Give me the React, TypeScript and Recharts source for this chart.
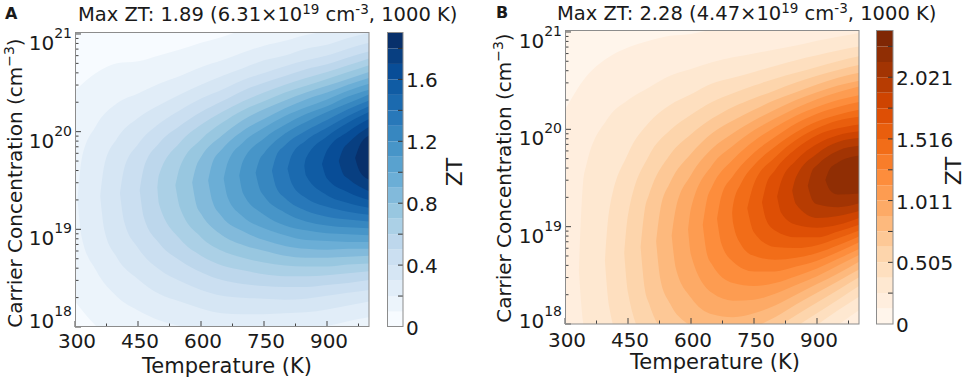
import React from "react";
import { ComposedChart, Area, XAxis, YAxis, CartesianGrid, BarChart, Bar } from "recharts";

const FONT = '"DejaVu Sans", Verdana, sans-serif';
const INK = "#1a1a1a";
const TICK = "#444";

// temperature axis (K)
const tempMajor = [300, 450, 600, 750, 900];
const tempMinor = [375, 525, 675, 825, 975];
// carrier concentration axis, stored as log10(n / cm^-3)
const decades = [18, 19, 20, 21];
const concTop = 21.01;

// contourf levels (ZT) and colorbar ticks
const levelsA = [0, 0.1, 0.2, 0.3, 0.4, 0.5, 0.6, 0.7, 0.8, 0.9, 1.0, 1.1, 1.2, 1.3, 1.4, 1.5, 1.6, 1.7, 1.8, 1.9];
const cbarLabelsA = [0, 0.4, 0.8, 1.2, 1.6];
const cbarMinorA = [0.2, 0.6, 1.0, 1.4, 1.8];
const levelsB = [0, 0.126, 0.253, 0.379, 0.505, 0.632, 0.758, 0.884, 1.011, 1.137, 1.263, 1.389, 1.516, 1.642, 1.768, 1.895, 2.021, 2.147, 2.274, 2.4];
const cbarLabelsB = [0, 0.505, 1.011, 1.516, 2.021];
const cbarMinorB = [0.253, 0.758, 1.263, 1.768, 2.274];

// iso-ZT contours: one list per level (levels[1..]),
// each point is [T, lower log10 n, upper log10 n]
const contoursA = [
  [[300, 18.26, 20.42], [350, 18.01, 20.6], [400, 17.85, 20.7], [450, 17.76, 20.72], [500, 17.7, 20.78], [550, 17.66, 20.84], [600, 17.63, 20.91], [650, 17.61, 20.97], [700, 17.63, 21.04], [750, 17.65, 21.1], [800, 17.68, 21.14], [850, 17.71, 21.2], [900, 17.76, 21.23], [950, 17.81, 21.29], [1000, 17.86, 21.35]],
  [[306, 19.3, 19.3], [316, 18.92, 19.72], [350, 18.58, 20.06], [400, 18.31, 20.29], [450, 18.17, 20.39], [500, 18.07, 20.49], [550, 18.01, 20.57], [600, 17.96, 20.66], [650, 17.93, 20.73], [700, 17.93, 20.81], [750, 17.94, 20.88], [800, 17.95, 20.93], [850, 17.97, 20.99], [900, 18.01, 21.03], [950, 18.06, 21.09], [1000, 18.1, 21.14]],
  [[360, 19.34, 19.34], [370, 18.99, 19.66], [400, 18.71, 19.93], [450, 18.49, 20.14], [500, 18.34, 20.27], [550, 18.26, 20.38], [600, 18.19, 20.48], [650, 18.14, 20.57], [700, 18.13, 20.65], [750, 18.13, 20.73], [800, 18.14, 20.78], [850, 18.15, 20.85], [900, 18.18, 20.89], [950, 18.22, 20.96], [1000, 18.26, 21.01]],
  [[407, 19.37, 19.37], [417, 19.08, 19.62], [450, 18.81, 19.87], [500, 18.59, 20.08], [550, 18.47, 20.22], [600, 18.38, 20.34], [650, 18.32, 20.43], [700, 18.3, 20.53], [750, 18.29, 20.6], [800, 18.28, 20.67], [850, 18.29, 20.73], [900, 18.32, 20.78], [950, 18.35, 20.85], [1000, 18.38, 20.91]],
  [[454, 19.4, 19.4], [464, 19.12, 19.63], [500, 18.86, 19.88], [550, 18.68, 20.06], [600, 18.56, 20.2], [650, 18.48, 20.31], [700, 18.44, 20.42], [750, 18.42, 20.5], [800, 18.41, 20.57], [850, 18.41, 20.64], [900, 18.43, 20.69], [950, 18.45, 20.76], [1000, 18.48, 20.82]],
  [[496, 19.43, 19.43], [500, 19.26, 19.56], [550, 18.9, 19.89], [600, 18.73, 20.07], [650, 18.63, 20.2], [700, 18.58, 20.31], [750, 18.54, 20.4], [800, 18.52, 20.48], [850, 18.52, 20.55], [900, 18.53, 20.61], [950, 18.55, 20.68], [1000, 18.57, 20.75]],
  [[539, 19.45, 19.45], [550, 19.22, 19.64], [600, 18.92, 19.92], [650, 18.78, 20.09], [700, 18.71, 20.22], [750, 18.66, 20.31], [800, 18.63, 20.4], [850, 18.62, 20.47], [900, 18.62, 20.54], [950, 18.64, 20.61], [1000, 18.65, 20.68]],
  [[579, 19.48, 19.48], [589, 19.25, 19.65], [600, 19.16, 19.74], [650, 18.94, 19.96], [700, 18.84, 20.12], [750, 18.78, 20.23], [800, 18.73, 20.32], [850, 18.71, 20.4], [900, 18.71, 20.47], [950, 18.72, 20.54], [1000, 18.73, 20.61]],
  [[617, 19.5, 19.5], [627, 19.29, 19.68], [650, 19.13, 19.82], [700, 18.98, 20.01], [750, 18.89, 20.13], [800, 18.83, 20.24], [850, 18.8, 20.33], [900, 18.79, 20.4], [950, 18.8, 20.48], [1000, 18.8, 20.55]],
  [[654, 19.52, 19.52], [664, 19.32, 19.69], [700, 19.13, 19.89], [750, 19.01, 20.04], [800, 18.94, 20.16], [850, 18.89, 20.25], [900, 18.88, 20.33], [950, 18.87, 20.42], [1000, 18.87, 20.49]],
  [[691, 19.55, 19.55], [700, 19.37, 19.7], [750, 19.15, 19.93], [800, 19.04, 20.07], [850, 18.99, 20.18], [900, 18.96, 20.26], [950, 18.95, 20.36], [1000, 18.94, 20.43]],
  [[730, 19.58, 19.58], [740, 19.41, 19.72], [750, 19.34, 19.78], [800, 19.17, 19.98], [850, 19.08, 20.1], [900, 19.04, 20.2], [950, 19.02, 20.29], [1000, 19.01, 20.38]],
  [[769, 19.6, 19.6], [779, 19.43, 19.75], [800, 19.32, 19.86], [850, 19.19, 20.01], [900, 19.13, 20.12], [950, 19.1, 20.23], [1000, 19.08, 20.32]],
  [[806, 19.62, 19.62], [816, 19.47, 19.76], [850, 19.32, 19.91], [900, 19.23, 20.04], [950, 19.18, 20.16], [1000, 19.15, 20.26]],
  [[846, 19.65, 19.65], [850, 19.55, 19.73], [900, 19.35, 19.95], [950, 19.27, 20.09], [1000, 19.22, 20.2]],
  [[888, 19.67, 19.67], [900, 19.52, 19.81], [950, 19.38, 20.0], [1000, 19.3, 20.13]],
  [[928, 19.7, 19.7], [938, 19.57, 19.82], [950, 19.52, 19.88], [1000, 19.39, 20.05]],
  [[967, 19.73, 19.73], [977, 19.6, 19.85], [1000, 19.51, 19.96]],
];

const contoursB = [
  [[300, 17.14, 20.2], [350, 16.8, 20.54], [400, 16.59, 20.73], [450, 16.44, 20.84], [500, 16.33, 20.91], [550, 16.3, 20.96], [600, 16.37, 20.98], [650, 16.5, 21.02], [700, 16.69, 21.03], [750, 16.9, 21.05], [800, 17.13, 21.07], [850, 17.37, 21.1], [900, 17.57, 21.13], [950, 17.76, 21.16], [1000, 17.93, 21.2]],
  [[333, 18.55, 18.55], [343, 18.02, 19.45], [350, 17.9, 19.62], [400, 17.38, 20.1], [450, 17.09, 20.3], [500, 16.9, 20.43], [550, 16.82, 20.55], [600, 16.84, 20.62], [650, 16.93, 20.69], [700, 17.08, 20.74], [750, 17.25, 20.78], [800, 17.44, 20.82], [850, 17.64, 20.86], [900, 17.82, 20.91], [950, 17.99, 20.95], [1000, 18.14, 20.99]],
  [[395, 18.65, 18.65], [405, 18.18, 19.16], [450, 17.63, 19.75], [500, 17.33, 20.07], [550, 17.19, 20.25], [600, 17.18, 20.36], [650, 17.22, 20.47], [700, 17.34, 20.53], [750, 17.48, 20.59], [800, 17.64, 20.65], [850, 17.82, 20.71], [900, 17.99, 20.76], [950, 18.14, 20.81], [1000, 18.28, 20.85]],
  [[441, 18.73, 18.73], [450, 18.32, 19.12], [500, 17.74, 19.73], [550, 17.52, 19.99], [600, 17.46, 20.15], [650, 17.46, 20.28], [700, 17.55, 20.37], [750, 17.66, 20.45], [800, 17.81, 20.52], [850, 17.97, 20.58], [900, 18.11, 20.64], [950, 18.25, 20.7], [1000, 18.39, 20.75]],
  [[480, 18.79, 18.79], [490, 18.36, 19.18], [500, 18.21, 19.33], [550, 17.84, 19.74], [600, 17.72, 19.95], [650, 17.68, 20.11], [700, 17.73, 20.23], [750, 17.82, 20.32], [800, 17.95, 20.4], [850, 18.09, 20.48], [900, 18.22, 20.55], [950, 18.35, 20.61], [1000, 18.48, 20.66]],
  [[517, 18.85, 18.85], [527, 18.46, 19.18], [550, 18.21, 19.45], [600, 17.98, 19.75], [650, 17.89, 19.96], [700, 17.91, 20.09], [750, 17.97, 20.2], [800, 18.07, 20.3], [850, 18.2, 20.38], [900, 18.32, 20.46], [950, 18.44, 20.53], [1000, 18.56, 20.58]],
  [[554, 18.91, 18.91], [564, 18.57, 19.19], [600, 18.27, 19.53], [650, 18.1, 19.8], [700, 18.07, 19.96], [750, 18.11, 20.09], [800, 18.19, 20.2], [850, 18.3, 20.3], [900, 18.41, 20.38], [950, 18.52, 20.45], [1000, 18.64, 20.5]],
  [[593, 18.97, 18.97], [600, 18.71, 19.19], [650, 18.32, 19.63], [700, 18.24, 19.83], [750, 18.25, 19.99], [800, 18.31, 20.11], [850, 18.4, 20.22], [900, 18.49, 20.31], [950, 18.6, 20.38], [1000, 18.71, 20.44]],
  [[628, 19.02, 19.02], [638, 18.72, 19.28], [650, 18.61, 19.41], [700, 18.42, 19.69], [750, 18.39, 19.88], [800, 18.42, 20.02], [850, 18.49, 20.14], [900, 18.57, 20.23], [950, 18.67, 20.3], [1000, 18.77, 20.35]],
  [[662, 19.08, 19.08], [672, 18.83, 19.31], [700, 18.64, 19.52], [750, 18.54, 19.76], [800, 18.54, 19.92], [850, 18.59, 20.06], [900, 18.65, 20.16], [950, 18.74, 20.23], [1000, 18.84, 20.28]],
  [[698, 19.14, 19.14], [700, 19.04, 19.22], [720, 18.81, 19.45], [750, 18.7, 19.63], [800, 18.66, 19.82], [850, 18.68, 19.97], [900, 18.73, 20.08], [950, 18.81, 20.15], [1000, 18.9, 20.2]],
  [[734, 19.19, 19.19], [750, 18.94, 19.44], [800, 18.79, 19.71], [850, 18.78, 19.89], [900, 18.81, 20.01], [950, 18.88, 20.09], [1000, 18.96, 20.13]],
  [[769, 19.25, 19.25], [779, 19.07, 19.43], [800, 18.96, 19.58], [850, 18.89, 19.8], [900, 18.89, 19.94], [950, 18.95, 20.01], [1000, 19.02, 20.05]],
  [[805, 19.31, 19.31], [815, 19.14, 19.47], [850, 19.02, 19.68], [900, 18.99, 19.85], [950, 19.02, 19.94], [1000, 19.09, 19.98]],
  [[841, 19.37, 19.37], [850, 19.23, 19.51], [900, 19.09, 19.75], [950, 19.11, 19.87], [1000, 19.16, 19.91]],
  [[878, 19.42, 19.42], [888, 19.28, 19.57], [900, 19.23, 19.63], [950, 19.2, 19.78], [1000, 19.24, 19.83]],
  [[920, 19.48, 19.48], [930, 19.38, 19.59], [950, 19.33, 19.66], [1000, 19.34, 19.73]],
];

// matplotlib Blues / Oranges
const BLUES = ["#f7fbff", "#deebf7", "#c6dbef", "#9ecae1", "#6baed6", "#4292c6", "#2171b5", "#08519c", "#08306b"];
const ORANGES = ["#fff5eb", "#fee6ce", "#fdd0a2", "#fdae6b", "#fd8d3c", "#f16913", "#d94801", "#a63603", "#7f2704"];

function rgb(hex: string) {
  const n = parseInt(hex.slice(1), 16);
  return [(n >> 16) & 255, (n >> 8) & 255, n & 255];
}

function bandColor(stops: string[], i: number, count: number) {
  const t = Math.min(Math.max(i / (count - 1), 0), 1) * (stops.length - 1);
  const k = Math.min(Math.floor(t), stops.length - 2);
  const f = t - k;
  const a = rgb(stops[k]);
  const b = rgb(stops[k + 1]);
  const c = a.map((v, j) => Math.round(v + (b[j] - v) * f));
  return `rgb(${c[0]},${c[1]},${c[2]})`;
}

const concTicks = decades.flatMap((d) =>
  d === 21 ? [21] : [d, ...[2, 3, 4, 5, 6, 7, 8, 9].map((m) => d + Math.log10(m))]
);
const tempTicks = [...tempMajor, ...tempMinor].sort((a, b) => a - b);

const makeTempTick = (labelDy: number) => (props: any) => {
  const { x, y, payload } = props;
  const major = tempMajor.includes(payload.value);
  return (
    <g>
      <line x1={x} x2={x} y1={y} y2={y - (major ? 6 : 3.5)} stroke={TICK} />
      {major && (
        <text x={x + 2} y={y + labelDy} textAnchor="middle" fontSize={20} fill={INK} fontFamily={FONT}>
          {payload.value}
        </text>
      )}
    </g>
  );
};

const makeConcTick = (bottomDy: number) => (props: any) => {
  const { x, y, payload } = props;
  const v = payload.value;
  const major = Math.abs(v - Math.round(v)) < 1e-6;
  return (
    <g>
      <line x1={x} x2={x + (major ? 6 : 3.5)} y1={y} y2={y} stroke={TICK} />
      {major && (
        <text x={x - 3} y={y + (Math.round(v) === 18 ? bottomDy : 16)} textAnchor="end" fontSize={20} fill={INK} fontFamily={FONT}>
          10
          <tspan dy={-12} fontSize={14}>
            {Math.round(v)}
          </tspan>
        </text>
      )}
    </g>
  );
};

const makeCbarTick = (labels: number[]) => (props: any) => {
  const { x, y, payload } = props;
  const v = payload.value;
  return (
    <g>
      {v > 0 && <line x1={x} x2={x - 5} y1={y} y2={y} stroke="#333" />}
      {labels.includes(v) && (
        <text x={x + 3} y={y + 8} fontSize={20} fill={INK} fontFamily={FONT}>
          {String(v)}
        </text>
      )}
    </g>
  );
};

interface PanelProps {
  left: number;
  width: number;
  top: number;
  plotBottom: number;
  contours: number[][][];
  stops: string[];
  labelDy: number;
  bottomDy: number;
}

function ContourPanel({ left, width, top, plotBottom, contours, stops, labelDy, bottomDy }: PanelProps) {
  const plotRight = 75 + 294;
  return (
    <div style={{ position: "absolute", left, top: 0 }}>
      <ComposedChart width={width} height={383} margin={{ top, right: width - plotRight, left: 0, bottom: 0 }}>
        <CartesianGrid horizontal={false} vertical={false} fill={bandColor(stops, 0, 19)} />
        <XAxis
          dataKey="t"
          type="number"
          domain={[300, 1000]}
          ticks={tempTicks}
          interval={0}
          allowDataOverflow
          height={383 - plotBottom}
          tickSize={0}
          tickMargin={0}
          tickLine={false}
          axisLine={false}
          tick={makeTempTick(labelDy)}
        />
        <YAxis
          type="number"
          domain={[18, concTop]}
          ticks={concTicks}
          interval={0}
          allowDataOverflow
          width={75}
          tickSize={0}
          tickMargin={0}
          tickLine={false}
          axisLine={false}
          tick={makeConcTick(bottomDy)}
        />
        {contours.map((pts, i) => (
          <Area
            key={i}
            data={pts.map(([t, lo, hi]) => ({ t, zt: [lo, hi] }))}
            dataKey="zt"
            type="monotone"
            fill={bandColor(stops, i + 1, 19)}
            fillOpacity={1}
            stroke="none"
            isAnimationActive={false}
          />
        ))}
      </ComposedChart>
    </div>
  );
}

interface CbarProps {
  left: number;
  barWidth: number;
  axisWidth: number;
  top: number;
  plotBottom: number;
  levels: number[];
  labels: number[];
  minor: number[];
  stops: string[];
}

function Colorbar({ left, barWidth, axisWidth, top, plotBottom, levels, labels, minor, stops }: CbarProps) {
  const row: Record<string, number | string> = { name: "ZT" };
  levels.slice(1).forEach((l, i) => {
    row[`b${i}`] = l - levels[i];
  });
  const ticks = [...labels, ...minor].sort((a, b) => a - b);
  return (
    <div style={{ position: "absolute", left, top: 0 }}>
      <BarChart
        width={barWidth + axisWidth}
        height={383}
        data={[row]}
        margin={{ top, right: 0, left: 0, bottom: 383 - plotBottom }}
        barCategoryGap={0}
      >
        <XAxis dataKey="name" hide />
        <YAxis
          orientation="right"
          type="number"
          domain={[0, levels[levels.length - 1]]}
          ticks={ticks}
          interval={0}
          allowDataOverflow
          width={axisWidth}
          tickSize={0}
          tickMargin={0}
          tickLine={false}
          axisLine={false}
          tick={makeCbarTick(labels)}
        />
        {levels.slice(1).map((_, i) => (
          <Bar key={i} dataKey={`b${i}`} stackId="cb" fill={bandColor(stops, i, 19)} isAnimationActive={false} />
        ))}
      </BarChart>
    </div>
  );
}

export default function App() {
  const frame = "#8c8c8c";
  return (
    <div style={{ position: "absolute", left: 0, top: 0, width: 968, height: 383, background: "#fff", fontFamily: FONT }}>
      <ContourPanel left={0} width={484} top={33} plotBottom={327} contours={contoursA} stops={BLUES} labelDy={21} bottomDy={1} />
      <Colorbar left={387} barWidth={16} axisWidth={50} top={33} plotBottom={327} levels={levelsA} labels={cbarLabelsA} minor={cbarMinorA} stops={BLUES} />
      <ContourPanel left={490} width={478} top={31} plotBottom={324} contours={contoursB} stops={ORANGES} labelDy={23} bottomDy={4} />
      <Colorbar left={876} barWidth={17} axisWidth={75} top={31} plotBottom={324} levels={levelsB} labels={cbarLabelsB} minor={cbarMinorB} stops={ORANGES} />

      <svg width={968} height={383} style={{ position: "absolute", left: 0, top: 0, pointerEvents: "none" }} fontFamily={FONT} fill={INK}>
        <rect x={75.5} y={32.5} width={293.5} height={294} fill="none" stroke={frame} />
        <rect x={387.5} y={32.5} width={15.5} height={294} fill="none" stroke={frame} />
        <rect x={565.5} y={30.5} width={293.5} height={293.5} fill="none" stroke={frame} />
        <rect x={876.5} y={30.5} width={16.5} height={293.5} fill="none" stroke={frame} />

        <text x={5} y={19} fontSize={16} fontWeight="bold">A</text>
        <text x={496} y={18} fontSize={16} fontWeight="bold">B</text>

        <text x={78} y={21} fontSize={19.5}>
          Max ZT: 1.89 (6.31×10<tspan dy={-7} fontSize={13.5}>19</tspan>
          <tspan dy={7}> cm</tspan>
          <tspan dy={-7} fontSize={13.5}>-3</tspan>
          <tspan dy={7}>, 1000 K)</tspan>
        </text>
        <text x={557} y={20} fontSize={19.5}>
          Max ZT: 2.28 (4.47×10<tspan dy={-7} fontSize={13.5}>19</tspan>
          <tspan dy={7}> cm</tspan>
          <tspan dy={-7} fontSize={13.5}>-3</tspan>
          <tspan dy={7}>, 1000 K)</tspan>
        </text>

        <text x={227} y={373} fontSize={21} textAnchor="middle">Temperature (K)</text>
        <text x={715} y={369} fontSize={21} textAnchor="middle">Temperature (K)</text>

        <text transform="translate(22,183) rotate(-90)" fontSize={20} textAnchor="middle">
          Carrier Concentration (cm<tspan dy={-8} fontSize={14}>−3</tspan>
          <tspan dy={8}>)</tspan>
        </text>
        <text transform="translate(511,178) rotate(-90)" fontSize={20} textAnchor="middle">
          Carrier Concentration (cm<tspan dy={-8} fontSize={14}>−3</tspan>
          <tspan dy={8}>)</tspan>
        </text>

        <text transform="translate(462,172) rotate(-90)" fontSize={22} textAnchor="middle">ZT</text>
        <text transform="translate(961,171) rotate(-90)" fontSize={22} textAnchor="middle">ZT</text>
      </svg>
    </div>
  );
}
